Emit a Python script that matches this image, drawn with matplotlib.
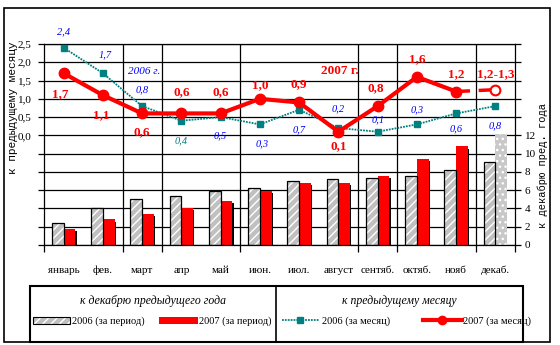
import matplotlib
matplotlib.use('Agg')
import matplotlib.pyplot as plt
import matplotlib.transforms as mtransforms
from matplotlib.patches import Rectangle
from matplotlib.lines import Line2D
import numpy as np

months = ['январь', 'фев.', 'март', 'апр', 'май', 'июн.', 'июл.', 'август',
          'сентяб.', 'октяб.', 'нояб', 'декаб.']

# growth since December of the previous year, %
cum_2006 = [2.4, 4.1, 5.0, 5.4, 5.9, 6.2, 7.0, 7.2, 7.3, 7.6, 8.2, 9.1]
cum_2007 = [1.8, 2.8, 3.4, 4.1, 4.8, 5.9, 6.8, 6.8, 7.6, 9.4, 10.8]
cum_2007_dec = 12.2          # December estimate

# growth over the previous month, %
mom_2006 = [2.4, 1.7, 0.8, 0.4, 0.5, 0.3, 0.7, 0.2, 0.1, 0.3, 0.6, 0.8]
mom_2007 = [1.7, 1.1, 0.6, 0.6, 0.6, 1.0, 0.9, 0.1, 0.8, 1.6, 1.2]
mom_2007_dec = 1.25          # middle of the 1,2-1,3 range
mom_2007_dec_text = '1,2-1,3'

legend_left = ['2006 (за период)', '2007 (за период)']
legend_right = ['2006 (за месяц)', '2007 (за месяц)']

# label offsets in pixels (dx, dy)
off_2006 = [(0, 16), (2, 18), (0, 16), (0, -20), (0, -19), (2, -19),
            (0, -20), (0, 19), (1, 12), (0, 15), (0, -15), (0, -20)]
off_2007 = [(-3, -21), (-2, -20), (0, -19), (0, 21), (0, 21), (0, 14),
            (0, 18), (0, -14), (-2, 18), (0, 18), (0, 17)]

RED = '#ff0000'
TEAL = '#008080'
BLUE = '#0000ff'
GRAY = '#c0c0c0'
SERIF = 'Liberation Serif'
MONO = 'Liberation Mono'


def fmt(v):
    return f'{v:.1f}'.replace('.', ',')


W, H = 560, 345
fig = plt.figure(figsize=(W / 100, H / 100), dpi=100)

# frame and legend box, drawn in pixel coordinates
bg = fig.add_axes([0, 0, 1, 1], zorder=-1)
bg.set_xlim(0, W)
bg.set_ylim(H, 0)
bg.axis('off')
bg.add_patch(Rectangle((4, 8), 546, 334, fill=False, ec='black', lw=1.2))
bg.add_patch(Rectangle((30, 286), 493, 56, fill=False, ec='black', lw=1.5))
bg.plot([276, 276], [286, 342], color='black', lw=1.2)

ax = fig.add_axes([44 / W, (H - 245) / H, 471 / W, 201 / H])
ax2 = ax.twinx()
ax.yaxis.tick_right()
ax2.yaxis.tick_left()

x = np.arange(12) + 0.5
bw = 0.3

# bars: cumulative growth, right scale
ax.set_xlim(0, 12)
ax.set_ylim(0, 22)
for yy in range(0, 23, 2):
    ax.axhline(yy, color='black', lw=0.9, zorder=0.5)
for xx in [2, 3, 5, 8, 9, 11]:
    ax.axvline(xx, color='black', lw=0.9, zorder=0.5)

ax.bar(x - bw / 2, cum_2006, width=bw, color=GRAY, hatch='////',
       edgecolor='white', lw=0, zorder=2)
ax.bar(x - bw / 2, cum_2006, width=bw, fill=False, edgecolor='black',
       lw=0.9, zorder=2.1)
x07 = x[:len(cum_2007)] + bw / 2
ax.bar(x07 + 0.03, np.array(cum_2007) - 0.25, width=bw, color='black',
       lw=0, zorder=1.9)
ax.bar(x07, cum_2007, width=bw, color=RED, lw=0, zorder=2)
ax.bar(x[11] + bw / 2, cum_2007_dec, width=bw, color='#c8c8c8',
       hatch='...', edgecolor='white', lw=0, zorder=2)

ax.set_yticks(range(0, 23, 2))
ax.set_yticklabels([str(v) if v <= 12 else '' for v in range(0, 23, 2)],
                   family=SERIF, fontsize=8)
ax.tick_params(axis='y', direction='out', length=4, width=0.9, pad=3)
ax.set_xticks([0, 2, 3, 5, 8, 9, 11, 12])
ax.set_xticklabels([])
ax.tick_params(axis='x', direction='out', length=5, width=0.9)
for s in ax.spines.values():
    s.set_linewidth(0.9)

trans = mtransforms.blended_transform_factory(ax.transData, ax.transAxes)
for xi, m in zip(x, months):
    ax.text(xi, -0.125, m, transform=trans, ha='center', va='center',
            family=SERIF, fontsize=8)

# lines: month-over-month growth, left scale
ax2.set_ylim(-3, 2.5)
ticks = np.arange(-3, 2.51, 0.5)
ax2.set_yticks(ticks)
ax2.set_yticklabels([fmt(t) if t >= 0 else '' for t in ticks],
                    family=SERIF, fontsize=8)
ax2.tick_params(axis='y', direction='out', length=4, width=0.9, pad=5)
for s in ax2.spines.values():
    s.set_visible(False)

ax2.plot(x, mom_2006, color=TEAL, lw=1.3, ls=(0, (1, 0.6)), marker='s',
         ms=5, mfc=TEAL, mec=TEAL, zorder=3)
xm = x[:len(mom_2007)]
ax2.plot(xm, mom_2007, color=RED, lw=3, marker='o', ms=7.5, zorder=4)
ax2.plot([x[10], x[11]], [mom_2007[-1], mom_2007_dec], color=RED, lw=2.5,
         ls=(0, (4, 2.5)), zorder=4)
ax2.plot([x[11]], [mom_2007_dec], marker='o', ms=7, mfc='white', mec=RED,
         mew=1.5, zorder=4)

for i, (xi, v) in enumerate(zip(x, mom_2006)):
    ax2.annotate(fmt(v), (xi, v), xytext=off_2006[i],
                 textcoords='offset pixels', ha='center', va='center',
                 color=TEAL if i == 3 else BLUE, family=SERIF,
                 style='italic', fontsize=7.5, zorder=5)
for i, (xi, v) in enumerate(zip(xm, mom_2007)):
    ax2.annotate(fmt(v), (xi, v), xytext=off_2007[i],
                 textcoords='offset pixels', ha='center', va='center',
                 color=RED, family=SERIF, weight='bold', fontsize=9.5,
                 zorder=5)
ax2.annotate(mom_2007_dec_text, (x[11], mom_2007_dec), xytext=(0, 16),
             textcoords='offset pixels', ha='center', va='center',
             color=RED, family=SERIF, weight='bold', fontsize=9.5, zorder=5)

ax2.text(2.55, 1.76, '2006 г.', color=BLUE, family=SERIF, style='italic',
         fontsize=8, ha='center', va='center')
ax2.text(7.54, 1.76, '2007 г.', color=RED, family=SERIF, weight='bold',
         fontsize=9.5, ha='center', va='center')

# axis titles
fig.text(13 / W, 1 - 108 / H, 'к предыдущему месяцу', rotation=90,
         family=MONO, fontsize=8, ha='center', va='center')
fig.text(543 / W, 1 - 166 / H, 'к декабрю пред. года', rotation=90,
         family=MONO, fontsize=7.5, ha='center', va='center')

# legend
bg.text(153, 301, 'к декабрю предыдущего года', family=SERIF,
        style='italic', fontsize=8.5, ha='center', va='center')
bg.text(399, 301, 'к предыдущему месяцу', family=SERIF, style='italic',
        fontsize=8.5, ha='center', va='center')
bg.add_patch(Rectangle((33, 317), 37, 7, facecolor=GRAY, hatch='////',
                       edgecolor='white', lw=0))
bg.add_patch(Rectangle((33, 317), 37, 7, fill=False, edgecolor='black',
                       lw=0.8))
bg.add_patch(Rectangle((159, 317), 39, 7, facecolor=RED, lw=0))
bg.add_line(Line2D([282, 319], [320, 320], color=TEAL, lw=1.3,
                   ls=(0, (1, 0.6))))
bg.plot([300], [320], marker='s', ms=5, color=TEAL)
bg.add_line(Line2D([423, 462], [320, 320], color=RED, lw=3))
bg.plot([442], [320], marker='o', ms=6, color=RED)
for tx, t in zip([72, 199], legend_left):
    bg.text(tx, 321, t, family=SERIF, fontsize=7.5, ha='left', va='center')
for tx, t in zip([322, 463], legend_right):
    bg.text(tx, 321, t, family=SERIF, fontsize=7.5, ha='left', va='center')

fig.savefig('out.png', dpi=100)
